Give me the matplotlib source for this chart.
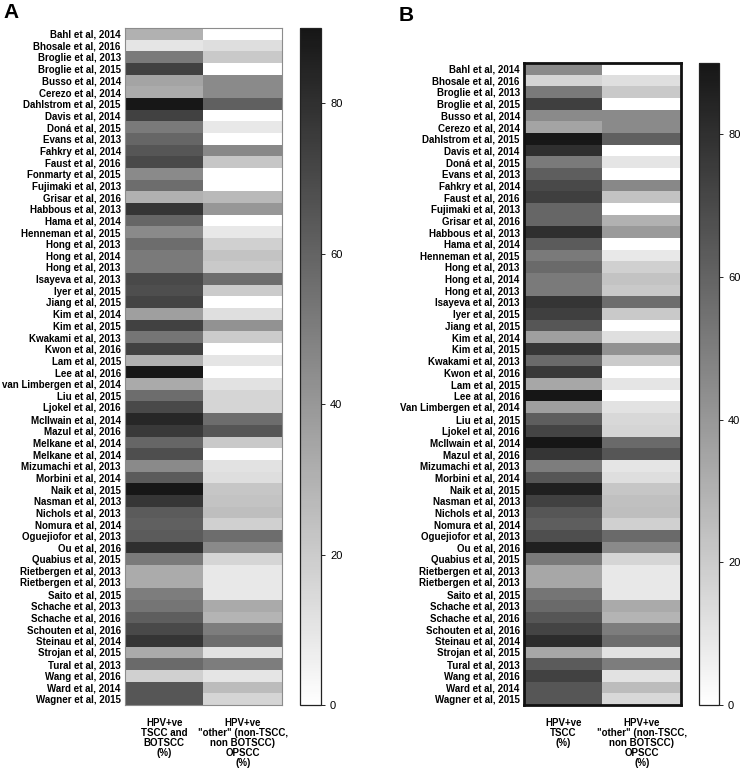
import numpy as np
import matplotlib.pyplot as plt
from matplotlib.colors import LinearSegmentedColormap

# Panel A data
studies_a = ["Bahl et al, 2014", "Bhosale et al, 2016", "Broglie et al, 2013", "Broglie et al, 2015",
             "Busso et al, 2014", "Cerezo et al, 2014", "Dahlstrom et al, 2015", "Davis et al, 2014",
             "Doná et al, 2015", "Evans et al, 2013", "Fahkry et al, 2014", "Faust et al, 2016",
             "Fonmarty et al, 2015", "Fujimaki et al, 2013", "Grisar et al, 2016", "Habbous et al, 2013",
             "Hama et al, 2014", "Henneman et al, 2015", "Hong et al, 2013", "Hong et al, 2014",
             "Hong et al, 2013", "Isayeva et al, 2013", "Iyer et al, 2015", "Jiang et al, 2015",
             "Kim et al, 2014", "Kim et al, 2015", "Kwakami et al, 2013", "Kwon et al, 2016",
             "Lam et al, 2015", "Lee at al, 2016", "van Limbergen et al, 2014", "Liu et al, 2015",
             "Ljokel et al, 2016", "McIlwain et al, 2014", "Mazul et al, 2016", "Melkane et al, 2014",
             "Melkane et al, 2014", "Mizumachi et al, 2013", "Morbini et al, 2014", "Naik et al, 2015",
             "Nasman et al, 2013", "Nichols et al, 2013", "Nomura et al, 2014", "Oguejiofor et al, 2013",
             "Ou et al, 2016", "Quabius et al, 2015", "Rietbergen et al, 2013", "Rietbergen et al, 2013",
             "Saito et al, 2015", "Schache et al, 2013", "Schache et al, 2016", "Schouten et al, 2016",
             "Steinau et al, 2014", "Strojan et al, 2015", "Tural et al, 2013", "Wang et al, 2016",
             "Ward et al, 2014", "Wagner et al, 2015"]
tscc_botscc_a = [30, 10, 51, 73, 35, 32, 89, 73, 51, 59, 65, 70, 45, 56, 30, 78, 59, 45, 56, 51,
                 51, 70, 68, 72, 37, 73, 53, 73, 30, 89, 33, 56, 70, 83, 76, 59, 68, 45, 63, 89,
                 77, 63, 61, 63, 80, 51, 32, 32, 50, 53, 62, 70, 78, 33, 57, 18, 65, 65]
other_a = [0, 13, 21, 0, 45, 45, 61, 0, 9, 0, 46, 22, 0, 0, 27, 40, 0, 9, 18, 23,
           21, 56, 20, 0, 12, 42, 20, 0, 10, 0, 11, 16, 16, 56, 65, 21, 0, 11, 13, 22,
           23, 25, 18, 56, 45, 16, 9, 9, 9, 33, 29, 50, 56, 11, 50, 10, 26, 16]

# Panel B data
studies_b = ["Bahl et al, 2014", "Bhosale et al, 2016", "Broglie et al, 2013", "Broglie et al, 2015",
             "Busso et al, 2014", "Cerezo et al, 2014", "Dahlstrom et al, 2015", "Davis et al, 2014",
             "Doná et al, 2015", "Evans et al, 2013", "Fahkry et al, 2014", "Faust et al, 2016",
             "Fujimaki et al, 2013", "Grisar et al, 2016", "Habbous et al, 2013", "Hama et al, 2014",
             "Henneman et al, 2015", "Hong et al, 2013", "Hong et al, 2014", "Hong et al, 2013",
             "Isayeva et al, 2013", "Iyer et al, 2015", "Jiang et al, 2015", "Kim et al, 2014",
             "Kim et al, 2015", "Kwakami et al, 2013", "Kwon et al, 2016", "Lam et al, 2015",
             "Lee at al, 2016", "Van Limbergen et al, 2014", "Liu et al, 2015", "Ljokel et al, 2016",
             "McIlwain et al, 2014", "Mazul et al, 2016", "Mizumachi et al, 2013", "Morbini et al, 2014",
             "Naik et al, 2015", "Nasman et al, 2013", "Nichols et al, 2013", "Nomura et al, 2014",
             "Oguejiofor et al, 2013", "Ou et al, 2016", "Quabius et al, 2015", "Rietbergen et al, 2013",
             "Rietbergen et al, 2013", "Saito et al, 2015", "Schache et al, 2013", "Schache et al, 2016",
             "Schouten et al, 2016", "Steinau et al, 2014", "Strojan et al, 2015", "Tural et al, 2013",
             "Wang et al, 2016", "Ward et al, 2014", "Wagner et al, 2015"]
tscc_b = [45, 16, 51, 74, 45, 35, 89, 80, 51, 62, 70, 74, 59, 59, 80, 63, 51, 57, 51, 51,
          78, 74, 65, 37, 77, 57, 76, 34, 90, 37, 62, 72, 90, 78, 50, 65, 86, 73, 65, 62,
          68, 86, 51, 34, 34, 53, 57, 65, 72, 81, 34, 63, 73, 65, 65]
other_b = [0, 12, 21, 0, 45, 45, 61, 0, 10, 0, 46, 23, 0, 30, 39, 0, 9, 18, 23, 21,
           56, 21, 0, 12, 42, 20, 0, 10, 0, 11, 15, 16, 57, 65, 10, 13, 22, 24, 25, 18,
           57, 45, 16, 9, 9, 9, 33, 29, 50, 56, 11, 50, 11, 26, 15]

col_labels_a = ["HPV+ve\nTSCC and\nBOTSCC\n(%)",
                "HPV+ve\n\"other\" (non-TSCC,\nnon BOTSCC)\nOPSCC\n(%)"]
col_labels_b = ["HPV+ve\nTSCC\n(%)",
                "HPV+ve\n\"other\" (non-TSCC,\nnon BOTSCC)\nOPSCC\n(%)"]

plt.rcParams['font.family'] = ['Liberation Sans', 'DejaVu Sans']

cmap = LinearSegmentedColormap.from_list("grey", ["#ffffff", "#161616"])

W, H = 740, 773
fig = plt.figure(figsize=(W / 100, H / 100), dpi=100)


def box(x0, y0, x1, y1):
    # pixel box -> figure fraction rect
    return [x0 / W, (H - y1) / H, (x1 - x0) / W, (y1 - y0) / H]


def panel(ax, cax, names, c1, c2, labels, frame_col, frame_lw):
    data = np.column_stack([c1, c2])
    im = ax.imshow(data, cmap=cmap, vmin=0, vmax=90, aspect='auto', interpolation='nearest')
    ax.set_yticks(range(len(names)))
    ax.set_yticklabels(names, fontsize=7, fontweight='bold')
    ax.set_xticks([0, 1])
    ax.set_xticklabels(labels, fontsize=7, fontweight='bold', linespacing=1.0, va='top')
    ax.tick_params(length=0, pad=3)
    ax.tick_params(axis='x', pad=9)
    for s in ax.spines.values():
        s.set_edgecolor(frame_col)
        s.set_linewidth(frame_lw)
    cb = fig.colorbar(im, cax=cax, ticks=[0, 20, 40, 60, 80])
    cb.ax.tick_params(labelsize=8, length=3, width=0.6)
    cb.outline.set_linewidth(0.9)
    cb.outline.set_edgecolor("#222222")


ax_a = fig.add_axes(box(125, 28, 282, 705))
cax_a = fig.add_axes(box(300, 28, 321, 705))
panel(ax_a, cax_a, studies_a, tscc_botscc_a, other_a, col_labels_a, "#8c8c8c", 0.8)

ax_b = fig.add_axes(box(524, 63, 681, 705))
cax_b = fig.add_axes(box(699, 63, 719, 705))
panel(ax_b, cax_b, studies_b, tscc_b, other_b, col_labels_b, "#111111", 2.0)

fig.text(3 / W, 1 - 3 / H, "A", fontsize=15, fontweight='bold', va='top', ha='left')
fig.text(399 / W, 1 - 6 / H, "B", fontsize=15, fontweight='bold', va='top', ha='left')

fig.savefig("out.png", dpi=100)
